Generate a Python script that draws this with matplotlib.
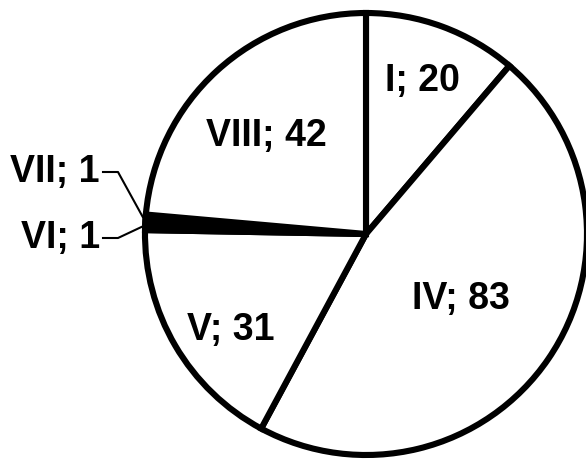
#!/usr/bin/env python3

import numpy as np
import matplotlib.pyplot as plt

# slice data, clockwise from the top
labels = ["I", "IV", "V", "VI", "VII", "VIII"]
values = [20, 83, 31, 1, 1, 42]
colors = ["white", "white", "white", "black", "black", "white"]

plt.rcParams["font.family"] = ["Liberation Sans", "DejaVu Sans"]

W, H = 586, 459
fig = plt.figure(figsize=(W / 100, H / 100), dpi=100)
ax = fig.add_axes([0, 0, 1, 1])

cx, cy, R = 366, H - 234, 221

wedges, _ = ax.pie(values, colors=colors, startangle=90, counterclock=False,
                   center=(cx, cy), radius=R, frame=True,
                   wedgeprops=dict(edgecolor="black", linewidth=4.4))
ax.set_xlim(0, W)
ax.set_ylim(0, H)
ax.set_aspect("equal")
ax.axis("off")

# inside labels: (radius fraction, angle shift)
inside = {"I": (0.74, 0), "IV": (0.52, 0), "V": (0.75, 5), "VIII": (0.63, 3)}
fs = 27

for w, lab, v in zip(wedges, labels, values):
    mid = np.deg2rad((w.theta1 + w.theta2) / 2)
    txt = f"{lab}; {v}"
    if lab in inside:
        f, shift = inside[lab]
        a = mid + np.deg2rad(shift)
        ax.text(cx + f * R * np.cos(a), cy + f * R * np.sin(a), txt,
                ha="center", va="center", fontsize=fs, fontweight="bold")
    else:
        ex, ey = cx + R * np.cos(mid), cy + R * np.sin(mid)
        ty = H - 172 if lab == "VII" else H - 238
        ax.plot([103, 118, ex - 2], [ty, ty, ey], color="black", lw=1.5)
        ax.text(100, ty, txt, ha="right", va="center",
                fontsize=fs, fontweight="bold")

fig.savefig("out.png", dpi=100)
